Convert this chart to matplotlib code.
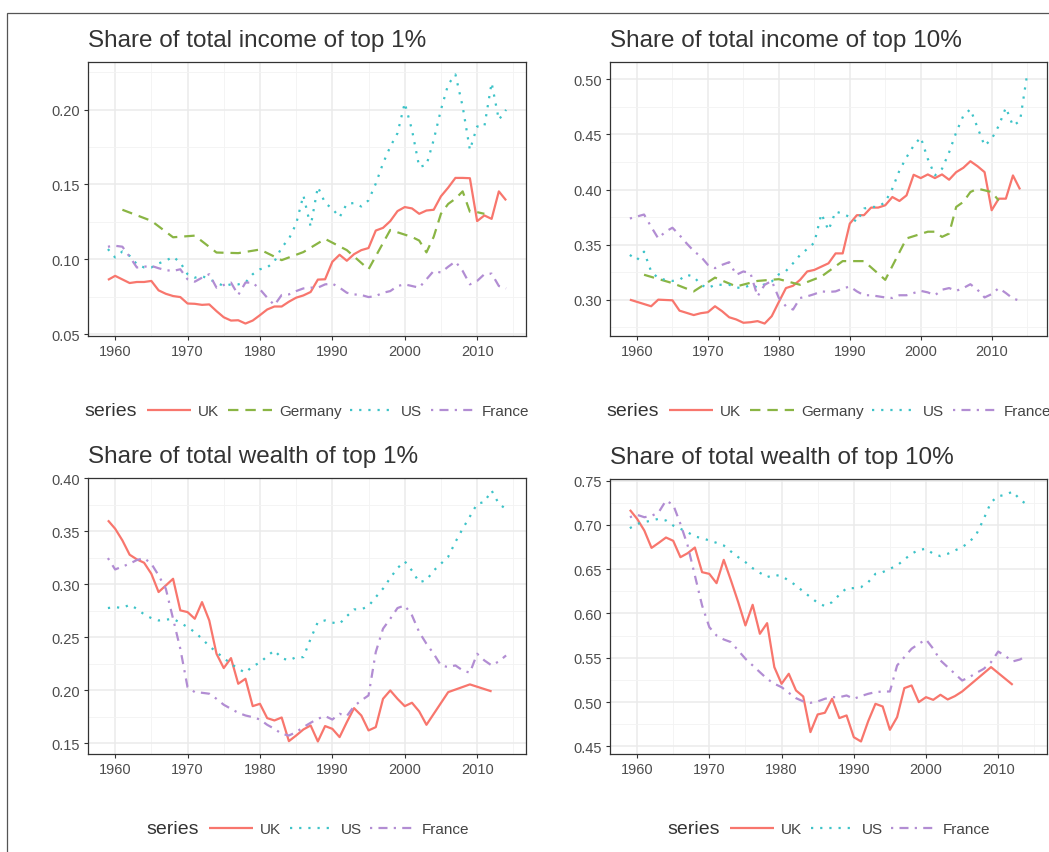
import numpy as np
import matplotlib
matplotlib.use('Agg')
import matplotlib.pyplot as plt
from matplotlib.ticker import MultipleLocator, FormatStrFormatter
from matplotlib.patches import Rectangle

plt.rcParams['font.family'] = ['Liberation Sans', 'DejaVu Sans']
plt.rcParams['lines.scale_dashes'] = False

### 数据：income top 1%
uk_inc1_years = [1959, 1960] + list(range(1962, 2015))
uk_inc1 = [0.0862, 0.0889, 0.0841, 0.0848, 0.0848, 0.0855, 0.0792, 0.0769, 0.0754, 0.0747,
           0.0704, 0.0702, 0.0695, 0.0698, 0.0653, 0.0612, 0.0590, 0.0592, 0.0570, 0.0590,
           0.0626, 0.0664, 0.0684, 0.0684, 0.0716, 0.0743, 0.0758, 0.0781, 0.0864, 0.0866,
           0.0983, 0.1030, 0.0990, 0.1034, 0.1061, 0.1075, 0.1192, 0.1210, 0.1255, 0.1322,
           0.1349, 0.1340, 0.1304, 0.1326, 0.1331, 0.1421, 0.1479, 0.1544, 0.1544, 0.1542,
           0.1255, 0.1293, 0.1270, 0.1454, 0.1394]
de_years = [1961, 1965, 1968, 1971, 1974, 1977, 1980, 1983, 1986, 1989, 1992, 1995, 1998,
            2001, 2002, 2003, 2004, 2005, 2006, 2007, 2008, 2009, 2010, 2011]
de_inc1 = [0.1331, 0.1257, 0.1147, 0.1158, 0.1045, 0.1041, 0.1065, 0.0994, 0.1048, 0.1136,
           0.1061, 0.0933, 0.1196, 0.1149, 0.1125, 0.1046, 0.1150, 0.1304, 0.1370, 0.1405,
           0.1454, 0.1318, 0.1315, 0.1304]
us_inc1_years = list(range(1959, 2015))
us_inc1 = [0.1068, 0.1012, 0.1052, 0.1023, 0.0967, 0.0945, 0.0945, 0.0972, 0.0990, 0.1017,
           0.0978, 0.0900, 0.0877, 0.0888, 0.0866, 0.0844, 0.0821, 0.0832, 0.0832, 0.0844,
           0.0900, 0.0933, 0.0945, 0.0985, 0.1079, 0.1136, 0.1237, 0.1427, 0.1220, 0.1484,
           0.1376, 0.1338, 0.1281, 0.1371, 0.1376, 0.1353, 0.1394, 0.1506, 0.1641, 0.1753,
           0.1843, 0.2045, 0.1865, 0.1618, 0.1630, 0.1798, 0.2000, 0.2169, 0.2236, 0.2022,
           0.1731, 0.1888, 0.1888, 0.2180, 0.1933, 0.2000]
fr_inc1_years = list(range(1959, 2015))
fr_inc1 = [0.1084, 0.1090, 0.1084, 0.1017, 0.0945, 0.0950, 0.0956, 0.0940, 0.0927, 0.0922,
           0.0933, 0.0866, 0.0850, 0.0877, 0.0900, 0.0810, 0.0828, 0.0844, 0.0761, 0.0844,
           0.0844, 0.0799, 0.0743, 0.0693, 0.0761, 0.0765, 0.0787, 0.0805, 0.0810, 0.0810,
           0.0832, 0.0837, 0.0810, 0.0776, 0.0765, 0.0761, 0.0747, 0.0754, 0.0776, 0.0787,
           0.0821, 0.0832, 0.0821, 0.0810, 0.0866, 0.0922, 0.0911, 0.0950, 0.0985, 0.0922,
           0.0832, 0.0855, 0.0900, 0.0904, 0.0821, 0.0805]

### income top 10%
uk_inc10_years = [1959] + list(range(1962, 2015))
uk_inc10 = [0.3000, 0.2940, 0.3000, 0.2997, 0.2994, 0.2900, 0.2880, 0.2860, 0.2877, 0.2886,
            0.2940, 0.2895, 0.2840, 0.2820, 0.2790, 0.2795, 0.2805, 0.2783, 0.2850, 0.2979,
            0.3105, 0.3126, 0.3180, 0.3256, 0.3270, 0.3300, 0.3330, 0.3420, 0.3420, 0.3690,
            0.3767, 0.3767, 0.3836, 0.3836, 0.3857, 0.3932, 0.3896, 0.3947, 0.4134, 0.4104,
            0.4137, 0.4104, 0.4137, 0.4089, 0.4158, 0.4197, 0.4257, 0.4212, 0.4158, 0.3812,
            0.3917, 0.3917, 0.4128, 0.4001]
de_inc10 = [0.3226, 0.3150, 0.3075, 0.3200, 0.3120, 0.3170, 0.3186, 0.3135, 0.3210, 0.3350,
            0.3350, 0.3180, 0.3556, 0.3617, 0.3617, 0.3570, 0.3600, 0.3842, 0.3887, 0.3977,
            0.4008, 0.3993, 0.3977, 0.3900]
us_inc10_years = list(range(1959, 2016))
us_inc10 = [0.3406, 0.3360, 0.3436, 0.3256, 0.3195, 0.3180, 0.3170, 0.3180, 0.3226, 0.3210,
            0.3135, 0.3105, 0.3135, 0.3135, 0.3135, 0.3110, 0.3105, 0.3135, 0.3110, 0.3140,
            0.3165, 0.3230, 0.3260, 0.3330, 0.3406, 0.3460, 0.3517, 0.3780, 0.3630, 0.3800,
            0.3780, 0.3750, 0.3707, 0.3827, 0.3842, 0.3842, 0.3887, 0.4008, 0.4173, 0.4293,
            0.4398, 0.4474, 0.4278, 0.4128, 0.4188, 0.4338, 0.4519, 0.4669, 0.4729, 0.4564,
            0.4398, 0.4459, 0.4579, 0.4744, 0.4579, 0.4624, 0.5045]
fr_inc10_years = [1959] + list(range(1961, 2015))
fr_inc10 = [0.3737, 0.3773, 0.3662, 0.3556, 0.3617, 0.3653, 0.3586, 0.3511, 0.3442, 0.3391,
            0.3316, 0.3286, 0.3316, 0.3340, 0.3226, 0.3256, 0.3240, 0.3030, 0.3135, 0.3170,
            0.3015, 0.2940, 0.2910, 0.3015, 0.3030, 0.3050, 0.3075, 0.3070, 0.3075, 0.3100,
            0.3120, 0.3075, 0.3040, 0.3040, 0.3030, 0.3020, 0.3015, 0.3040, 0.3040, 0.3060,
            0.3080, 0.3066, 0.3040, 0.3090, 0.3105, 0.3080, 0.3105, 0.3140, 0.3090, 0.3020,
            0.3050, 0.3105, 0.3060, 0.3010, 0.2990]

### wealth top 1%
uk_w1_years = list(range(1959, 2004)) + [2006, 2009, 2012]
uk_w1 = [0.3604, 0.3525, 0.3415, 0.3280, 0.3236, 0.3204, 0.3100, 0.2928, 0.2990, 0.3053,
         0.2755, 0.2739, 0.2676, 0.2833, 0.2660, 0.2346, 0.2211, 0.2305, 0.2063, 0.2110,
         0.1852, 0.1874, 0.1739, 0.1717, 0.1745, 0.1522, 0.1575, 0.1632, 0.1670, 0.1519,
         0.1664, 0.1638, 0.1560, 0.1701, 0.1833, 0.1764, 0.1623, 0.1654, 0.1921, 0.2000,
         0.1921, 0.1852, 0.1884, 0.1802, 0.1676, 0.1984, 0.2057, 0.1991]
us_w1_years = list(range(1959, 2015))
us_w1 = [0.2777, 0.2786, 0.2777, 0.2808, 0.2770, 0.2717, 0.2682, 0.2660, 0.2667, 0.2676,
         0.2638, 0.2597, 0.2550, 0.2487, 0.2418, 0.2362, 0.2305, 0.2252, 0.2204, 0.2167,
         0.2230, 0.2261, 0.2324, 0.2377, 0.2305, 0.2283, 0.2314, 0.2314, 0.2487, 0.2645,
         0.2660, 0.2640, 0.2629, 0.2700, 0.2764, 0.2764, 0.2796, 0.2880, 0.2960, 0.3060,
         0.3154, 0.3217, 0.3130, 0.3020, 0.3040, 0.3130, 0.3195, 0.3260, 0.3400, 0.3525,
         0.3640, 0.3760, 0.3777, 0.3885, 0.3760, 0.3710]
fr_w1_years = [1959, 1960] + list(range(1962, 2015))
fr_w1 = [0.3248, 0.3141, 0.3195, 0.3230, 0.3248, 0.3195, 0.3085, 0.2959, 0.2676, 0.2393,
         0.2031, 0.1984, 0.1978, 0.1969, 0.1921, 0.1865, 0.1827, 0.1789, 0.1764, 0.1748,
         0.1726, 0.1676, 0.1638, 0.1591, 0.1575, 0.1607, 0.1654, 0.1695, 0.1733, 0.1758,
         0.1726, 0.1780, 0.1758, 0.1852, 0.1906, 0.1953, 0.2362, 0.2582, 0.2676, 0.2777,
         0.2802, 0.2708, 0.2550, 0.2440, 0.2346, 0.2236, 0.2220, 0.2236, 0.2189, 0.2167,
         0.2346, 0.2283, 0.2236, 0.2274, 0.2330]

### wealth top 10%
uk_w10_years = list(range(1959, 2006)) + [2009, 2012]
uk_w10 = [0.7169, 0.7068, 0.6936, 0.6740, 0.6797, 0.6857, 0.6820, 0.6635, 0.6680, 0.6744,
          0.6466, 0.6447, 0.6342, 0.6605, 0.6372, 0.6128, 0.5865, 0.6098, 0.5771, 0.5891,
          0.5395, 0.5207, 0.5320, 0.5132, 0.5064, 0.4662, 0.4861, 0.4880, 0.5038, 0.4820,
          0.4850, 0.4605, 0.4556, 0.4786, 0.4981, 0.4951, 0.4688, 0.4831, 0.5158, 0.5188,
          0.5000, 0.5056, 0.5026, 0.5083, 0.5030, 0.5068, 0.5120, 0.5395, 0.5195]
us_w10_years = list(range(1959, 2015))
us_w10 = [0.6962, 0.7011, 0.7030, 0.7049, 0.7068, 0.7049, 0.6992, 0.6955, 0.6917, 0.6868,
          0.6850, 0.6823, 0.6797, 0.6767, 0.6699, 0.6635, 0.6579, 0.6511, 0.6459, 0.6410,
          0.6436, 0.6421, 0.6372, 0.6316, 0.6248, 0.6184, 0.6120, 0.6083, 0.6128, 0.6211,
          0.6286, 0.6286, 0.6297, 0.6353, 0.6447, 0.6466, 0.6504, 0.6541, 0.6609, 0.6673,
          0.6718, 0.6729, 0.6673, 0.6647, 0.6673, 0.6711, 0.6748, 0.6805, 0.6898, 0.7068,
          0.7256, 0.7323, 0.7338, 0.7376, 0.7286, 0.7226]
fr_w10_years = list(range(1959, 2015))
fr_w10 = [0.7086, 0.7113, 0.7086, 0.7100, 0.7143, 0.7274, 0.7226, 0.7011, 0.6767, 0.6429,
          0.6090, 0.5846, 0.5752, 0.5707, 0.5677, 0.5583, 0.5489, 0.5414, 0.5338, 0.5263,
          0.5207, 0.5169, 0.5105, 0.5045, 0.5008, 0.4992, 0.5008, 0.5038, 0.5056, 0.5056,
          0.5075, 0.5038, 0.5068, 0.5094, 0.5113, 0.5120, 0.5120, 0.5414, 0.5508, 0.5602,
          0.5658, 0.5707, 0.5602, 0.5470, 0.5395, 0.5320, 0.5244, 0.5282, 0.5331, 0.5376,
          0.5451, 0.5571, 0.5519, 0.5459, 0.5481, 0.5526]

W, H = 1049, 853
colors = {'UK': '#F8766D', 'Germany': '#8AB544', 'US': '#3DC3C8', 'France': '#B28DD3'}
styles = {'UK': '-', 'Germany': (0, (7.5, 5.0)), 'US': (0, (1.6, 5.0)),
          'France': (0, (1.6, 4.5, 6.5, 4.5))}


def draw_panel(rect, title, series, leg_x, leg_y):
    ax = fig.add_axes([rect[0] / W, 1 - rect[3] / H, (rect[2] - rect[0]) / W, (rect[3] - rect[1]) / H])
    handles = []
    xs, ys = [], []
    for name, yrs, vals in series:
        l, = ax.plot(yrs, vals, color=colors[name], ls=styles[name], lw=1.6,
                     dash_capstyle='butt', solid_capstyle='butt', label=name)
        handles.append(l)
        xs += list(yrs)
        ys += list(vals)
    # ggplot式 5% 扩展
    x0, x1 = min(xs), max(xs)
    y0, y1 = min(ys), max(ys)
    ax.set_xlim(x0 - 0.05 * (x1 - x0), x1 + 0.05 * (x1 - x0))
    ax.set_ylim(y0 - 0.05 * (y1 - y0), y1 + 0.05 * (y1 - y0))
    ax.xaxis.set_major_locator(MultipleLocator(10))
    ax.xaxis.set_minor_locator(MultipleLocator(5))
    ax.yaxis.set_major_locator(MultipleLocator(0.05))
    ax.yaxis.set_minor_locator(MultipleLocator(0.025))
    ax.yaxis.set_major_formatter(FormatStrFormatter('%.2f'))
    ax.grid(which='major', color='#EBEBEB', lw=1.1)
    ax.grid(which='minor', color='#F3F3F3', lw=0.6)
    ax.set_axisbelow(True)
    for s in ax.spines.values():
        s.set_color('#333333')
        s.set_linewidth(0.9)
    ax.tick_params(which='major', length=3, width=0.8, color='#333333',
                   labelcolor='#4D4D4D', labelsize=10.5, pad=2.5)
    ax.tick_params(which='minor', length=0)
    hpx = rect[3] - rect[1]
    ax.text(0.0, 1 + 16 / hpx, title, transform=ax.transAxes, ha='left', va='baseline',
            fontsize=17.5, color='#333333')
    fig.text((leg_x - 63) / W, 1 - leg_y / H, 'series', ha='left', va='center',
             fontsize=14, color='#333333')
    ax.legend(handles=handles, loc='center left', bbox_to_anchor=(leg_x / W, 1 - leg_y / H),
              bbox_transform=fig.transFigure, ncol=len(handles), frameon=False,
              fontsize=11, labelcolor='#444444', handlelength=2.9, handletextpad=0.45,
              columnspacing=0.55, borderpad=0, borderaxespad=0)
    return ax


fig = plt.figure(figsize=(W / 100, H / 100), dpi=100)

draw_panel((88, 63, 526, 337), 'Share of total income of top 1%',
           [('UK', uk_inc1_years, uk_inc1), ('Germany', de_years, de_inc1),
            ('US', us_inc1_years, us_inc1), ('France', fr_inc1_years, fr_inc1)], 147, 412)
draw_panel((610, 63, 1047, 337), 'Share of total income of top 10%',
           [('UK', uk_inc10_years, uk_inc10), ('Germany', de_years, de_inc10),
            ('US', us_inc10_years, us_inc10), ('France', fr_inc10_years, fr_inc10)], 669, 412)
draw_panel((88, 479, 526, 755), 'Share of total wealth of top 1%',
           [('UK', uk_w1_years, uk_w1), ('US', us_w1_years, us_w1),
            ('France', fr_w1_years, fr_w1)], 209, 830)
draw_panel((610, 480, 1047, 755), 'Share of total wealth of top 10%',
           [('UK', uk_w10_years, uk_w10), ('US', us_w10_years, us_w10),
            ('France', fr_w10_years, fr_w10)], 730, 830)

# 外框（右、下被裁掉）
fig.add_artist(Rectangle((7 / W, -0.5), 2.0, 0.5 + 1 - 13.5 / H, transform=fig.transFigure,
                         fill=False, edgecolor='#555555', lw=0.9))

fig.savefig('out.png', dpi=100)
